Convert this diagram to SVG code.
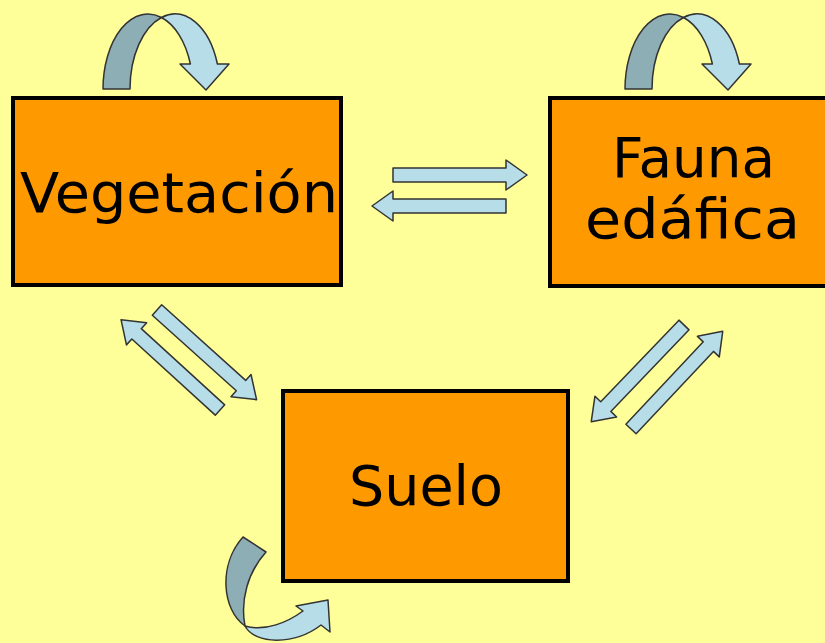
<svg xmlns="http://www.w3.org/2000/svg" width="825" height="643" viewBox="0 0 825 643">
<defs>
<style>
.box{fill:#FF9900;stroke:#000;stroke-width:4}
.lbl{font-family:"DejaVu Sans","Liberation Sans",sans-serif;font-size:56px;fill:#000}
.arr{fill:#B7DEE8;stroke:#333;stroke-width:1.5;stroke-linejoin:round}
.dark{fill:#8CAEB4;stroke:#333;stroke-width:1.5;stroke-linejoin:round}
</style>
<path id="blk" d="M0,-7 L113,-7 L113,-15 L134,0 L113,15 L113,7 L0,7 Z"/>
</defs>
<rect width="825" height="643" fill="#FFFF99"/>
<g id="vegetacion">
<rect class="box" x="13" y="98" width="328" height="187"/>
<text class="lbl" x="20" y="212" textLength="318" lengthAdjust="spacingAndGlyphs">Vegetación</text>
</g>
<g id="fauna">
<rect class="box" x="550" y="98" width="290" height="188"/>
<text class="lbl" x="612" y="177" textLength="163" lengthAdjust="spacingAndGlyphs">Fauna</text>
<text class="lbl" x="585" y="238" textLength="215" lengthAdjust="spacingAndGlyphs">edáfica</text>
</g>
<g id="suelo">
<rect class="box" x="283" y="391" width="285" height="190"/>
<text class="lbl" x="349" y="505" textLength="154" lengthAdjust="spacingAndGlyphs">Suelo</text>
</g>
<g id="connectors">
<use href="#blk" class="arr" transform="translate(393,175)"/>
<use href="#blk" class="arr" transform="translate(506,206) rotate(180)"/>
<use href="#blk" class="arr" transform="translate(157,310) rotate(42)"/>
<use href="#blk" class="arr" transform="translate(220,410) rotate(222.4)"/>
<use href="#blk" class="arr" transform="translate(684,325) rotate(133.8)"/>
<use href="#blk" class="arr" transform="translate(631,429) rotate(-46.8)"/>
<g id="loop-vegetacion">
<path class="dark" d="M103,89 A45,75 0 0 1 161.5,17.5 A45,75 0 0 0 130,89 Z"/>
<path class="arr" d="M161.5,17.5 A45,75 0 0 1 217.4,64 L229,64 L206,90 L180,64 L190.4,64 A45,75 0 0 0 161.5,17.5 Z"/>
</g>
<g id="loop-fauna" transform="translate(522,0)">
<path class="dark" d="M103,89 A45,75 0 0 1 161.5,17.5 A45,75 0 0 0 130,89 Z"/>
<path class="arr" d="M161.5,17.5 A45,75 0 0 1 217.4,64 L229,64 L206,90 L180,64 L190.4,64 A45,75 0 0 0 161.5,17.5 Z"/>
</g>
<g id="loop-suelo">
<path class="dark" d="M243,537 L266,552 C248,572 240,600 245,626 C222,610 218,565 243,537 Z"/>
<path class="arr" d="M245,626 C265,632 288,622 303,611 L296,606 L328,600 L330,632 L321,625 C295,645 255,645 245,626 Z"/>
</g>
</g>
</svg>
